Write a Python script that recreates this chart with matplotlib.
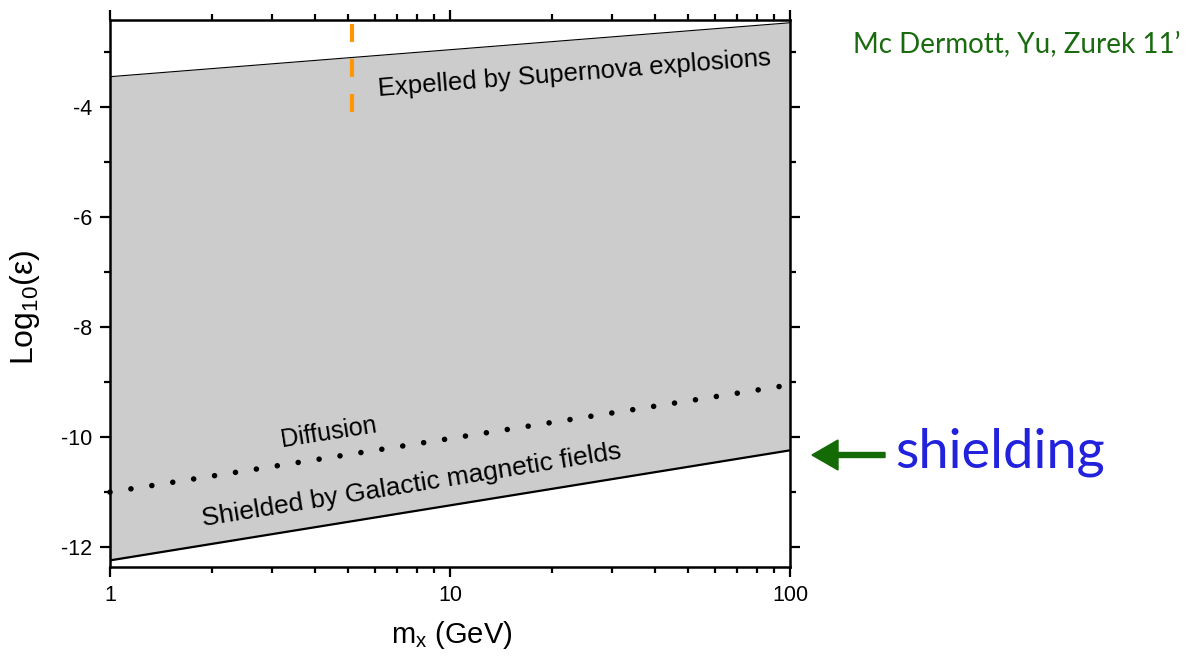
import numpy as np
import matplotlib
matplotlib.use("Agg")
import matplotlib.pyplot as plt
from matplotlib.ticker import LogLocator, NullFormatter, FixedLocator

plt.rcParams['font.family'] = ['Liberation Sans', 'DejaVu Sans']
plt.rcParams['mathtext.fontset'] = 'custom'
plt.rcParams['mathtext.rm'] = 'Liberation Sans'
plt.rcParams['mathtext.it'] = 'Liberation Sans'

# ---- data ----
mass = [1, 100]                    # GeV
supernova = [-3.45, -2.47]         # upper boundary: expelled by SN
diffusion = [-11.0, -9.05]         # dotted diffusion line
shielded = [-12.24, -10.24]        # lower boundary: galactic B-field shielding
sn_mass = [5.15, 5.15]             # orange dashed vertical
sn_eps = [-2.5, -4.1]
xticks = [1, 10, 100]
xticklabels = ["1", "10", "100"]
yticks = [-12, -10, -8, -6, -4]
yticklabels = ["-12", "-10", "-8", "-6", "-4"]

fig = plt.figure(figsize=(11.95, 6.59), dpi=100)
ax = fig.add_axes([110/1195, 1-567/659, 680/1195, 547/659])

ax.fill_between(mass, shielded, supernova, color="#cccccc", lw=0, zorder=1)
ax.plot(mass, supernova, color="black", lw=0.8, zorder=2)
ax.plot(mass, shielded, color="black", lw=1.6, zorder=2)
ax.plot(mass, diffusion, color="black", lw=4, dashes=(0.01, 3.8),
        dash_capstyle="round", zorder=2, clip_on=False)
ax.plot(sn_mass, sn_eps, color="#ff9500", lw=3, dashes=(4.3, 4.1), zorder=3)

ax.set_xscale("log")
ax.set_xlim(1, 100)
ax.set_ylim(-12.36, -2.42)
ax.set_xticks(xticks)
ax.set_xticklabels(xticklabels)
ax.xaxis.set_minor_locator(LogLocator(base=10, subs=np.arange(2, 10)))
ax.xaxis.set_minor_formatter(NullFormatter())
ax.set_yticks(yticks)
ax.set_yticklabels(yticklabels)
ax.yaxis.set_minor_locator(FixedLocator([-11, -9, -7, -5, -3]))

for s in ax.spines.values():
    s.set_linewidth(1.8)
ax.tick_params(which="both", direction="out", top=True, right=True,
               labeltop=False, labelright=False, width=1.6)
ax.tick_params(which="major", length=7, labelsize=15.5, pad=6)
ax.tick_params(which="minor", length=4.5)

fig.text(452/1195, 1-635/659, r"m$_{\rm x}$ (GeV)", fontsize=21,
         ha="center", va="center")
fig.text(25/1195, 1-307/659, "Log$_{10}$(\u03b5)", fontsize=23,
         ha="center", va="center", rotation=90)

ax.text(23.2, -3.40, "Expelled by Supernova explosions", fontsize=18.5,
        rotation=4.5, ha="center", va="center", zorder=4)
ax.text(4.4, -9.91, "Diffusion", fontsize=18, rotation=9,
        ha="center", va="center", zorder=4)
ax.text(7.7, -10.88, "Shielded by Galactic magnetic fields", fontsize=19,
        rotation=9.2, ha="center", va="center", zorder=4)

fig.text(1017/1195, 1-45/659, "Mc Dermott, Yu, Zurek 11\u2019", color="#1a6b10",
         fontsize=20, ha="center", va="center", family=["Lato", "DejaVu Sans"])
fig.text(1000/1195, 1-452/659, "shielding", color="#2222dd",
         fontsize=39, ha="center", va="center", family=["Lato", "DejaVu Sans"])
fig.patches.append(matplotlib.patches.FancyArrow(
    885/1195, 1-455/659, -73/1195, 0, width=5/659, head_width=30/659,
    head_length=26/1195, length_includes_head=True, color="#146a05",
    transform=fig.transFigure, figure=fig))

fig.savefig("out.png", dpi=100)
